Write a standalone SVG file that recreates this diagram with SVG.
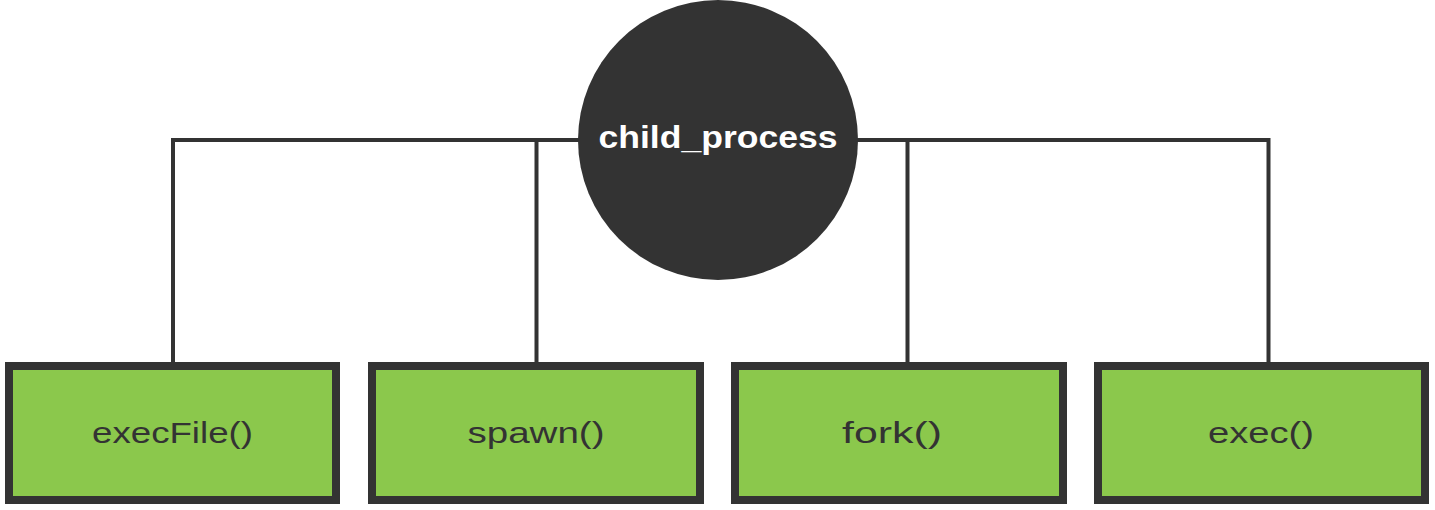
<svg xmlns="http://www.w3.org/2000/svg" width="1435" height="510" viewBox="0 0 1435 510">
<style>
.box{fill:#8bc84c;stroke:#333333;stroke-width:8}
.lbl{font-family:"Liberation Sans",Arial,sans-serif;font-size:29px;fill:#333333;text-anchor:middle}
.conn{stroke:#333333;stroke-width:4;fill:none}
</style>
<rect width="1435" height="510" fill="#ffffff"/>
<g id="connectors">
<polyline class="conn" points="173,362 173,140 1268.5,140 1268.5,362"/>
<line class="conn" x1="536.5" y1="140" x2="536.5" y2="362"/>
<line class="conn" x1="907.5" y1="140" x2="907.5" y2="362"/>
</g>
<g id="child_process">
<circle cx="718" cy="140" r="140" fill="#333333"/>
<text x="718" y="148" font-family="'Liberation Sans',Arial,sans-serif" font-size="31" font-weight="bold" fill="#ffffff" text-anchor="middle" textLength="239" lengthAdjust="spacingAndGlyphs">child_process</text>
</g>
<g id="execFile">
<rect class="box" x="9" y="366" width="327" height="134"/>
<text class="lbl" x="172.5" y="443" textLength="161" lengthAdjust="spacingAndGlyphs">execFile()</text>
</g>
<g id="spawn">
<rect class="box" x="372" y="366" width="328" height="134"/>
<text class="lbl" x="536" y="443" textLength="137" lengthAdjust="spacingAndGlyphs">spawn()</text>
</g>
<g id="fork">
<rect class="box" x="735" y="366" width="328" height="134"/>
<text class="lbl" x="892" y="443" textLength="100" lengthAdjust="spacingAndGlyphs">fork()</text>
</g>
<g id="exec">
<rect class="box" x="1098" y="366" width="327" height="134"/>
<text class="lbl" x="1261" y="443" textLength="106" lengthAdjust="spacingAndGlyphs">exec()</text>
</g>
</svg>
